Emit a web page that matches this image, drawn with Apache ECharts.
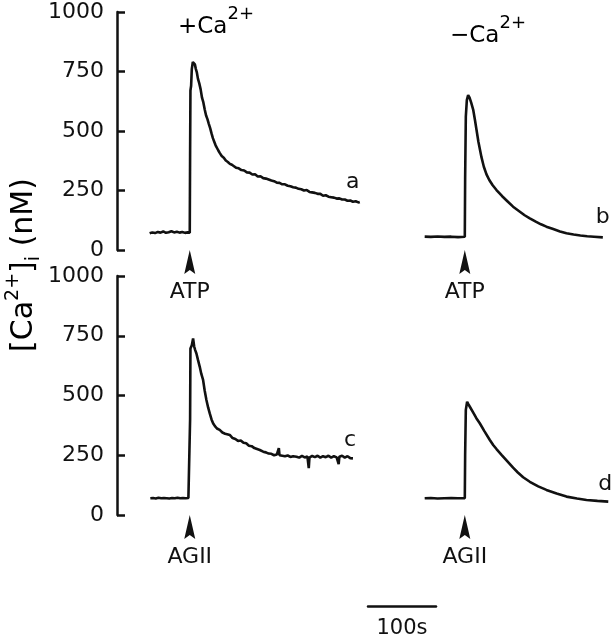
<!DOCTYPE html>
<html>
<head>
<meta charset="utf-8">
<script src="https://cdn.jsdelivr.net/npm/echarts@6/dist/echarts.min.js"></script>
<style>
  html, body { margin: 0; padding: 0; background: #fff; }
  #chart { width: 611px; height: 640px; }
</style>
</head>
<body>
<div id="chart"></div>
<script>
// time in seconds relative to agonist addition, [Ca2+]i in nM
const timeA = [-59, -55, -51, -47, -43, -39, -35, -31, -27, -23, -19, -15, -11, -7, -3, 0,
  0.5, 1, 2, 3, 4.5, 6, 7.5, 9, 10.5, 12, 14, 16, 18, 20, 22, 24, 26, 28, 30, 32, 34, 36, 38, 40, 42, 44,
  47, 50, 53, 56, 59, 62, 65, 68, 72, 76, 80, 84, 88, 92, 96, 100, 104, 108, 112, 116, 120, 124, 128,
  132, 136, 140, 144, 148, 152, 156, 160, 164, 168, 172, 176, 180, 184, 188, 192, 196, 200, 204, 208,
  212, 216, 220, 224, 228, 232, 236, 240, 244, 248, 250]
const valuesA = [70, 74, 71, 76, 73, 78, 72, 75, 79, 74, 77, 73, 76, 72, 74, 73,
  400, 670, 690, 760, 790, 794, 780, 760, 745, 720, 700, 675, 640, 620, 590, 565, 550, 530, 512, 490, 470, 455, 440, 432, 418, 408,
  395, 388, 376, 370, 362, 358, 352, 346, 343, 336, 334, 326, 325, 317, 318, 309, 310, 302, 300, 296, 292, 289, 283,
  282, 276, 276, 270, 268, 264, 262, 257, 255, 250, 252, 244, 242, 240, 236, 236, 228, 230, 224, 222,
  220, 216, 217, 212, 212, 207, 208, 203, 205, 200, 202]

const timeB = [-59, -50, -40, -30, -20, -10, 0, 0.5, 1.5, 3, 4.9, 7, 9.5, 12.3, 15, 17.2, 20, 24.5, 28, 31.9,
  36, 41, 46.6, 55, 63, 71, 80, 88, 95.6, 105, 112, 120, 130, 140, 149.5, 160, 170, 180, 190, 203]
const valuesB = [56, 55, 57, 55, 56, 54, 56, 300, 560, 630, 651, 640, 618, 590, 545, 505, 455, 390, 350, 318,
  294, 272, 252, 226, 204, 182, 163, 146, 133, 118, 108, 98, 88, 78, 70, 65, 61, 58, 56, 53]

const timeC = [-58, -54, -50, -46, -42, -38, -34, -30, -26, -22, -18, -14, -10, -6, -2, 0,
  0.5, 1, 3, 4.9, 6.5, 8, 9.8, 12, 14.7, 17, 19.6, 22, 24.5, 27, 29.4, 32, 34.3, 37, 40, 44, 48, 52, 55, 58.8,
  63, 67, 71, 75, 79, 83, 87, 91, 95, 99, 103, 108, 112, 116, 120, 124, 128, 131, 132, 136, 140, 144, 148,
  152, 157, 161, 165, 169, 173, 175, 176, 180, 184, 188, 192, 196, 200, 204, 208, 212, 216, 219, 220,
  224, 228, 232, 236, 240]
const valuesC = [70, 71, 69, 72, 70, 71, 70, 69, 71, 70, 72, 70, 71, 70, 71, 70,
  400, 697, 710, 739, 705, 690, 676, 650, 620, 590, 565, 520, 481, 450, 425, 400, 384, 372, 362, 356, 345, 340, 338, 335,
  322, 318, 310, 312, 302, 300, 290, 288, 280, 276, 272, 265, 262, 257, 256, 250, 253, 280, 250, 248, 246, 249, 243,
  246, 244, 240, 247, 241, 245, 196, 240, 247, 242, 248, 240, 246, 242, 248, 240, 246, 241, 213, 244,
  248, 240, 246, 238, 237]

const timeD = [-59, -50, -40, -30, -20, -10, 0, 0.5, 1.5, 3.4, 5, 7.4, 12, 17, 22, 29, 36.8, 42, 46.6, 54,
  61, 66, 71, 78, 85.8, 95.6, 108, 120, 135, 149.5, 165, 179, 195, 211]
const valuesD = [70, 71, 69, 70, 71, 70, 70, 250, 440, 474, 465, 453, 430, 405, 384, 350, 314, 292, 276, 252,
  230, 214, 198, 178, 158, 139, 120, 105, 90, 77, 69, 63, 59, 56]

const traceLetters = ['a', 'b', 'c', 'd']
const stimulusTime = 0
const stimulusLabels = ['ATP', 'ATP', 'AGII', 'AGII']
const yTicks = [0, 250, 500, 750, 1000]
const scaleBar = [0, 100]

const FONT = 'DejaVu Sans'
const INK = '#111'

const zip = (t, v) => t.map((x, i) => [x, v[i]])

const chart = echarts.init(document.getElementById('chart'))

const hiddenX = (min, max, gridIndex) => ({
  type: 'value', gridIndex, min, max, show: false
})

const shownY = (gridIndex) => ({
  type: 'value', gridIndex,
  min: yTicks[0], max: yTicks[yTicks.length - 1], interval: yTicks[1] - yTicks[0],
  axisLine: { show: true, onZero: false, lineStyle: { color: INK, width: 2.5 } },
  axisTick: { show: true, inside: true, length: 8, lineStyle: { color: INK, width: 2.5 } },
  axisLabel: { color: INK, fontFamily: FONT, fontSize: 22, margin: 13, formatter: (v) => String(v) },
  splitLine: { show: false }
})

const hiddenY = (gridIndex) => ({
  type: 'value', gridIndex, min: yTicks[0], max: yTicks[yTicks.length - 1], show: false
})

const labelOffsets = [[-15, -20], [-8, -20], [-11, -18], [-11, -17]]

const trace = (idx, data) => ({
  type: 'line',
  xAxisIndex: idx,
  yAxisIndex: idx,
  data,
  showSymbol: false,
  symbol: 'none',
  lineStyle: { color: INK, width: 2.6 },
  endLabel: {
    show: true,
    formatter: traceLetters[idx],
    color: INK,
    fontFamily: FONT,
    fontSize: 22,
    align: 'center',
    offset: labelOffsets[idx]
  },
  markPoint: {
    symbol: 'path://M5,0 L10,24 L5,20 L0,24 Z',
    symbolSize: [11, 24],
    symbolOffset: [0, 12],
    itemStyle: { color: INK },
    label: {
      show: true,
      position: 'bottom',
      distance: 7,
      color: INK,
      fontFamily: FONT,
      fontSize: 22,
      formatter: stimulusLabels[idx]
    },
    data: [{ coord: [stimulusTime, 0] }]
  }
})

const titleRich = {
  m: { fontFamily: FONT, fontSize: 23, lineHeight: 44, color: INK },
  s: { fontFamily: FONT, fontSize: 18, lineHeight: 8, verticalAlign: 'top', color: INK }
}

chart.setOption({
  animation: false,
  backgroundColor: '#fff',
  grid: [
    { left: 117, top: 12, width: 255, height: 238 },
    { left: 424, top: 12, width: 187, height: 238 },
    { left: 117, top: 276, width: 255, height: 239 },
    { left: 424, top: 276, width: 187, height: 239 },
    { left: 368, top: 602, width: 68, height: 10 }
  ],
  xAxis: [
    hiddenX(-107, 268, 0),
    hiddenX(-60, 215, 1),
    hiddenX(-107, 268, 2),
    hiddenX(-60, 215, 3),
    {
      type: 'value', gridIndex: 4, min: scaleBar[0], max: scaleBar[1],
      axisLine: { show: true, lineStyle: { color: INK, width: 2.5 } },
      axisTick: { show: false },
      axisLabel: { show: false },
      splitLine: { show: false },
      name: '100s',
      nameLocation: 'middle',
      nameGap: 7,
      nameTextStyle: { color: INK, fontFamily: FONT, fontSize: 21 }
    }
  ],
  yAxis: [
    shownY(0),
    hiddenY(1),
    shownY(2),
    hiddenY(3),
    { type: 'value', gridIndex: 4, min: -1, max: 1, show: false }
  ],
  graphic: [
    {
      type: 'text', x: 178, y: 5,
      style: { text: '{m|+Ca}{s|2+}', rich: titleRich, verticalAlign: 'top' }
    },
    {
      type: 'text', x: 450, y: 14,
      style: { text: '{m|\u2212Ca}{s|2+}', rich: titleRich, verticalAlign: 'top' }
    },
    {
      type: 'text', x: 24, y: 265, rotation: Math.PI / 2,
      style: {
        text: '{m|[Ca}{s|2+}{m|]}{b|i}{m| (nM)}',
        align: 'center',
        verticalAlign: 'middle',
        rich: {
          m: { fontFamily: FONT, fontSize: 30, lineHeight: 40, color: INK },
          s: { fontFamily: FONT, fontSize: 19, lineHeight: 6, verticalAlign: 'top', color: INK },
          b: { fontFamily: FONT, fontSize: 19, lineHeight: 22, verticalAlign: 'bottom', color: INK }
        }
      }
    }
  ],
  series: [
    trace(0, zip(timeA, valuesA)),
    trace(1, zip(timeB, valuesB)),
    trace(2, zip(timeC, valuesC)),
    trace(3, zip(timeD, valuesD)),
    {
      type: 'line', xAxisIndex: 4, yAxisIndex: 4, data: [],
      silent: true
    }
  ]
})
</script>
</body>
</html>
